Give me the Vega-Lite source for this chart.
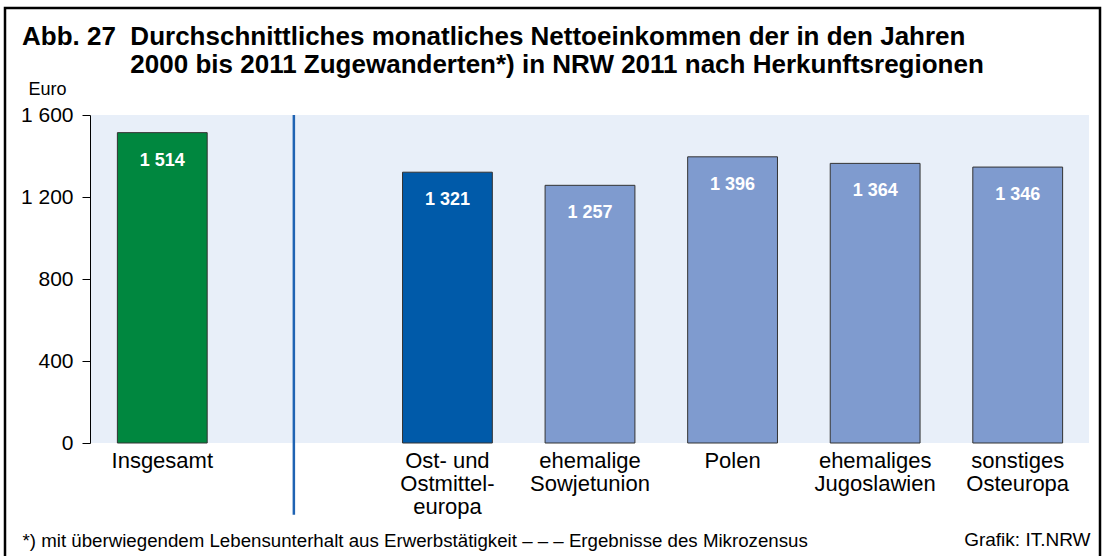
{
  "$schema": "https://vega.github.io/schema/vega-lite/v6.json",
  "autosize": "none",
  "width": 1095,
  "height": 550,
  "padding": {"left": 5, "top": 8, "right": 5, "bottom": -2},
  "background": "#ffffff",
  "config": {
    "view": {"stroke": "#000000", "strokeWidth": 2.5, "fill": "#ffffff"},
    "locale": {"number": {"decimal": ",", "thousands": " ", "grouping": [3], "currency": ["", " €"]}},
    "axis": {"labelFont": "Liberation Sans", "titleFont": "Liberation Sans", "labelColor": "#000000", "titleColor": "#000000", "grid": false}
  },
  "title": {
    "text": [
      "Abb. 27\u00a0\u00a0Durchschnittliches monatliches Nettoeinkommen der in den Jahren",
      "\u200b\u00a0\u00a0\u00a0\u00a0\u00a0\u00a0\u00a0\u00a0\u00a0\u00a0\u00a0\u00a0\u00a0\u00a0\u00a02000 bis 2011 Zugewanderten*) in NRW 2011 nach Herkunftsregionen"
    ],
    "anchor": "start",
    "frame": "group",
    "dx": 17,
    "offset": -91,
    "baseline": "alphabetic",
    "lineHeight": 28,
    "font": "Liberation Sans",
    "fontSize": 26,
    "fontWeight": "bold",
    "color": "#000000"
  },
  "data": {
    "values": [
      {"region": "Insgesamt", "gruppe": "Insgesamt", "euro": 1514},
      {"region": "Ost- und|Ostmittel-|europa", "gruppe": "Ost- und Ostmitteleuropa", "euro": 1321},
      {"region": "ehemalige|Sowjetunion", "gruppe": "Teilregion", "euro": 1257},
      {"region": "Polen", "gruppe": "Teilregion", "euro": 1396},
      {"region": "ehemaliges|Jugoslawien", "gruppe": "Teilregion", "euro": 1364},
      {"region": "sonstiges|Osteuropa", "gruppe": "Teilregion", "euro": 1346}
    ]
  },
  "resolve": {"axis": {"y": "independent"}},
  "layer": [
    {
      "data": {"values": [{}]},
      "mark": {"type": "rect", "color": "#e8eff9"},
      "encoding": {
        "x": {"datum": "Insgesamt", "type": "nominal", "bandPosition": 0},
        "x2": {"datum": "sonstiges|Osteuropa", "bandPosition": 1},
        "y": {"datum": 0, "type": "quantitative", "axis": null},
        "y2": {"datum": 1600}
      }
    },
    {
      "mark": {"type": "bar", "width": {"band": 0.63}, "stroke": "#333333", "strokeWidth": 1},
      "encoding": {
        "x": {
          "field": "region",
          "type": "nominal",
          "sort": null,
          "scale": {
            "domain": ["Insgesamt", "gap", "Ost- und|Ostmittel-|europa", "ehemalige|Sowjetunion", "Polen", "ehemaliges|Jugoslawien", "sonstiges|Osteuropa"],
            "range": [86, 1084],
            "paddingInner": 0,
            "paddingOuter": 0
          },
          "axis": {
            "orient": "bottom",
            "offset": -115,
            "bandPosition": 0.5,
            "domain": false,
            "ticks": false,
            "tickSize": 0,
            "labelPadding": 17,
            "labelAngle": 0,
            "labelAlign": "center",
            "labelFontSize": 22,
            "labelLineHeight": 23,
            "labelLimit": 300,
            "labelExpr": "datum.label == 'gap' ? '' : split(datum.label, '|')",
            "title": "*) mit überwiegendem Lebensunterhalt aus Erwerbstätigkeit – – – Ergebnisse des Mikrozensus",
            "titleX": 17,
            "titleY": 103,
            "titleAlign": "left",
            "titleBaseline": "alphabetic",
            "titleFontSize": 18.7,
            "titleFontWeight": "normal"
          }
        },
        "y": {
          "field": "euro",
          "type": "quantitative",
          "scale": {"domain": [0, 1600], "range": [435, 107], "nice": false},
          "axis": {
            "orient": "left",
            "offset": -85,
            "values": [0, 400, 800, 1200, 1600],
            "format": ",d",
            "domainColor": "#000000",
            "domainWidth": 1,
            "tickColor": "#000000",
            "tickSize": 8,
            "labelPadding": 9,
            "labelFontSize": 21,
            "title": "Euro",
            "titleAngle": 0,
            "titleX": -43,
            "titleY": 86,
            "titleAlign": "center",
            "titleBaseline": "alphabetic",
            "titleFontSize": 18,
            "titleFontWeight": "normal"
          }
        },
        "color": {
          "field": "gruppe",
          "type": "nominal",
          "scale": {"domain": ["Insgesamt", "Ost- und Ostmitteleuropa", "Teilregion"], "range": ["#00873f", "#005aa9", "#7f9bcf"]},
          "legend": null
        }
      }
    },
    {
      "mark": {"type": "text", "color": "#ffffff", "font": "Liberation Sans", "fontSize": 18, "fontWeight": "bold", "baseline": "middle", "dy": 28},
      "encoding": {
        "x": {"field": "region", "type": "nominal", "sort": null},
        "y": {
          "field": "euro",
          "type": "quantitative",
          "axis": {
            "orient": "right",
            "domain": false,
            "ticks": false,
            "labels": false,
            "title": "Grafik: IT.NRW",
            "titleAngle": 0,
            "titleX": -10,
            "titleY": 537,
            "titleAlign": "right",
            "titleBaseline": "alphabetic",
            "titleFontSize": 19,
            "titleFontWeight": "normal"
          }
        },
        "text": {"field": "euro", "type": "quantitative", "format": ",d"}
      }
    },
    {
      "data": {"values": [{}]},
      "mark": {"type": "rule", "color": "#1f63b3", "strokeWidth": 2.5, "xOffset": -11},
      "encoding": {
        "x": {"datum": "gap", "type": "nominal"},
        "y": {"datum": 1600, "type": "quantitative", "axis": null},
        "y2": {"datum": -350}
      }
    }
  ]
}
